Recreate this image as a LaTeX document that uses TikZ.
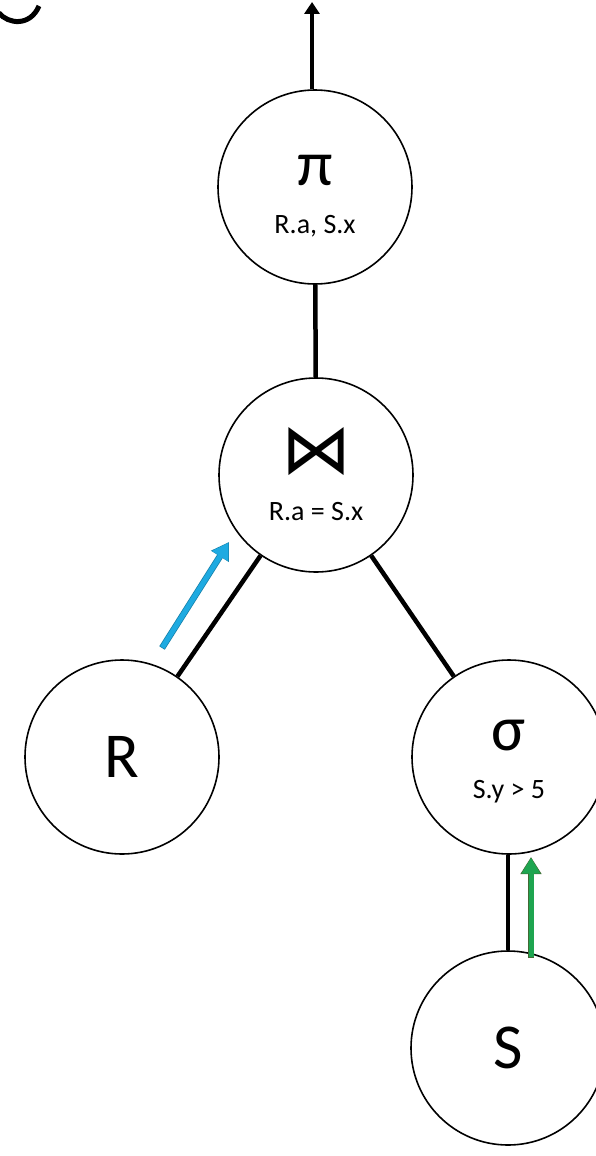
\documentclass[tikz,border=0pt]{standalone}
\usepackage{fontspec}
\setmainfont{Carlito}
\newfontfamily\symfont{DejaVu Sans}
\usetikzlibrary{arrows.meta}
\definecolor{blueArr}{RGB}{30,170,225}
\definecolor{greenArr}{RGB}{30,165,80}
\begin{document}
\begin{tikzpicture}[x=1pt,y=-1pt,
  op/.style={circle,draw,line width=1.6pt,minimum size=194pt,inner sep=0pt,align=center},
  edge/.style={line width=4.5pt,black},
  big/.style={font=\fontsize{64}{66}\selectfont},
  small/.style={font=\fontsize{28}{30}\selectfont}]
\useasboundingbox (0,0) rectangle (595,1156);
\fill[white] (0,0) rectangle (595,1156);
\draw[line width=5pt] (-1,13) .. controls (8,24) and (30,27) .. (39,6);
\node[op] (pi) at (315,187) {};
\node[big] (pit) at (315,170) {π};
\node[small] (pil) at (315,226) {R.a, S.x};
\node[op] (join) at (316,475) {};
\node[font=\symfont\fontsize{70}{72}\selectfont] (joint) at (316,452) {⋈};
\node[small] (joinl) at (316,512) {R.a = S.x};
\node[op] (R) at (122,757) {};
\node[big] (Rt) at (122,757) {R};
\node[op] (sig) at (509,757) {};
\node[big] (sigt) at (509,736) {σ};
\node[small] (sigl) at (509,792) {S.y > 5};
\node[op] (S) at (508,1048) {};
\node[big] (St) at (508,1048) {S};
\coordinate (top) at (312,2);
\draw[edge,-{Triangle[length=12pt,width=15pt]}] (pi.north -| top) -- (top);
\draw[edge] (pi) -- (join);
\draw[edge] (join) -- (R);
\draw[edge] (join) -- (sig);
\draw[edge] (sig.south -| 508,0) -- (S.north);
\coordinate (b1) at (162,648);
\coordinate (b2) at (229,542);
\draw[blueArr!75!black,line width=6.5pt,-{Triangle[length=17pt,width=20pt]}] (b1) -- (b2);
\draw[blueArr,line width=5pt,-{Triangle[length=16pt,width=18pt]},shorten >=0.7pt,shorten <=0.7pt] (b1) -- (b2);
\coordinate (g1) at (531,958);
\coordinate (g2) at (531,857);
\draw[greenArr!60!brown!70!black,line width=6.5pt,-{Triangle[length=17pt,width=20pt]}] (g1) -- (g2);
\draw[greenArr,line width=5pt,-{Triangle[length=16pt,width=18pt]},shorten >=0.7pt,shorten <=0.7pt] (g1) -- (g2);
\end{tikzpicture}
\end{document}
